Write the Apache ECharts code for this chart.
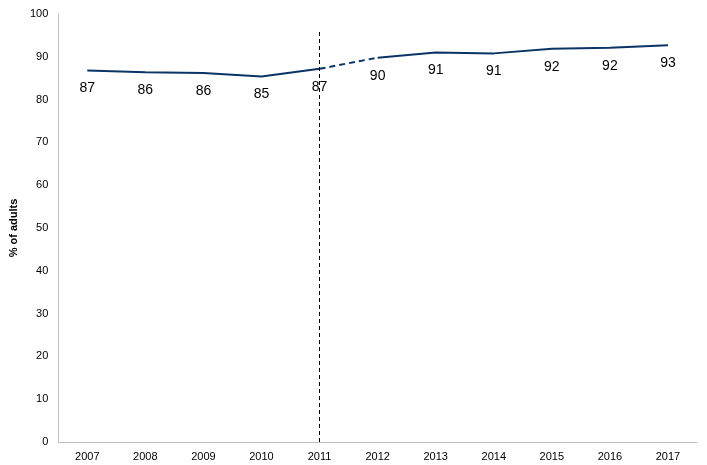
<!DOCTYPE html>
<html>
<head>
<meta charset="utf-8">
<script src="https://cdn.jsdelivr.net/npm/echarts@6/dist/echarts.min.js"></script>
<style>
  html, body { margin: 0; padding: 0; background: #fff; }
  #chart { width: 707px; height: 465px; }
</style>
</head>
<body>
<div id="chart"></div>
<script>
var years = ['2007', '2008', '2009', '2010', '2011', '2012', '2013', '2014', '2015', '2016', '2017'];
var values = [86.8, 86.4, 86.2, 85.4, 87.2, 89.8, 91.0, 90.8, 91.9, 92.1, 92.7];
var yTicks = [0, 10, 20, 30, 40, 50, 60, 70, 80, 90, 100];

var breakAt = years.indexOf('2011'); // series break between 2011 and 2012

// solid before the break, dashed across it, solid after
var before = values.map(function (v, i) { return i <= breakAt ? v : null; });
var bridge = values.map(function (v, i) { return (i === breakAt || i === breakAt + 1) ? v : null; });
var after = values.map(function (v, i) { return i >= breakAt + 1 ? v : null; });

var lineColor = '#0b3466';
var font = 'Liberation Sans, Arial, sans-serif';

// labels need a symbol to hang on, so keep an invisible one
var valueLabel = {
    show: true,
    position: 'bottom',
    distance: 11,
    color: '#000',
    fontSize: 14,
    fontFamily: font,
    formatter: function (p) { return Math.round(p.value); }
};

var chart = echarts.init(document.getElementById('chart'));
chart.setOption({
    animation: false,
    grid: {left: 55, right: 10, top: 14, bottom: 23},
    xAxis: {
        type: 'category',
        data: years,
        boundaryGap: true,
        axisLine: {lineStyle: {color: '#bfbfbf', width: 1}},
        axisTick: {show: false},
        axisLabel: {color: '#000', fontSize: 11, fontFamily: font, margin: 9}
    },
    yAxis: {
        type: 'value',
        min: yTicks[0],
        max: yTicks[yTicks.length - 1],
        interval: 10,
        name: '% of adults',
        nameLocation: 'middle',
        nameGap: 34,
        nameTextStyle: {color: '#000', fontSize: 11, fontWeight: 'bold', fontFamily: font},
        axisLine: {show: true, lineStyle: {color: '#bfbfbf', width: 1}},
        axisTick: {show: false},
        splitLine: {show: false},
        axisLabel: {color: '#000', fontSize: 11, fontFamily: font, margin: 10}
    },
    series: [
        {
            type: 'line',
            data: before,
            symbol: 'circle',
            symbolSize: 0,
            showSymbol: true,
            itemStyle: {color: lineColor},
            lineStyle: {color: lineColor, width: 2},
            label: valueLabel,
            markLine: {
                silent: true,
                symbol: 'none',
                label: {show: false},
                lineStyle: {color: '#000', type: [4, 3], width: 1},
                data: [[{coord: [years[breakAt], 0]}, {coord: [years[breakAt], 96]}]]
            }
        },
        {
            type: 'line',
            data: bridge,
            symbol: 'none',
            lineStyle: {color: lineColor, width: 2, type: [6, 4]}
        },
        {
            type: 'line',
            data: after,
            symbol: 'circle',
            symbolSize: 0,
            showSymbol: true,
            itemStyle: {color: lineColor},
            lineStyle: {color: lineColor, width: 2},
            label: valueLabel
        }
    ]
});
</script>
</body>
</html>
